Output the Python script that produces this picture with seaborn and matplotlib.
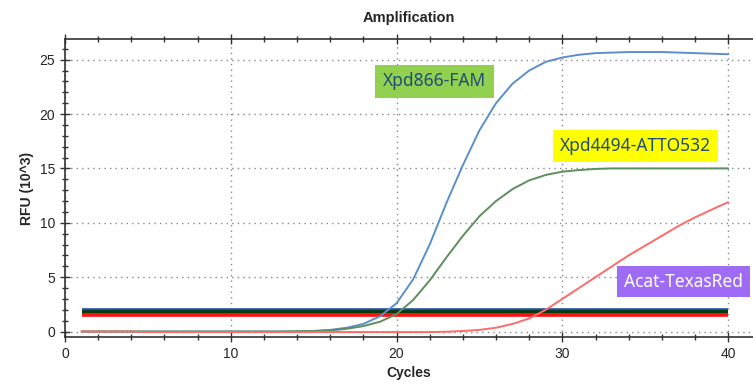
import pandas as pd
import matplotlib
matplotlib.use("Agg")
import matplotlib.pyplot as plt
import seaborn as sns
from matplotlib.ticker import MultipleLocator

# ciclos e valores de RFU (10^3)
ciclos = list(range(1, 41))

rfu_fam = [0, 0, 0, 0, 0, 0, 0, 0, 0, 0, 0, 0, 0, 0.02, 0.05, 0.15, 0.35, 0.7, 1.4, 2.6,
           4.8, 8.0, 11.8, 15.3, 18.5, 21.0, 22.8, 24.0, 24.8, 25.2, 25.45, 25.6, 25.65, 25.7,
           25.7, 25.7, 25.65, 25.6, 25.55, 25.5]
rfu_atto = [0, 0, 0, 0, 0, 0, 0, 0, 0, 0, 0, 0, 0, 0.02, 0.05, 0.1, 0.25, 0.5, 0.9, 1.6,
            2.9, 4.7, 6.8, 8.8, 10.6, 12.0, 13.1, 13.9, 14.4, 14.7, 14.85, 14.95, 15.0, 15.0,
            15.0, 15.0, 15.0, 15.0, 15.0, 15.0]
rfu_texas = [0, 0, 0, 0, -0.05, -0.05, -0.05, -0.05, -0.05, -0.05, -0.05, -0.05, -0.05, -0.05,
             -0.05, -0.05, -0.05, -0.05, -0.05, -0.05, -0.05, -0.05, -0.02, 0.05, 0.15, 0.35,
             0.7, 1.2, 2.0, 3.0, 4.0, 5.0, 6.0, 7.0, 7.9, 8.8, 9.7, 10.5, 11.2, 11.9]

limiares = [2.0, 1.75, 1.5]
cores_limiar = ['#1F4E9A', '#0A3A0A', '#FF1010']
nomes = ['Xpd866-FAM', 'Xpd4494-ATTO532', 'Acat-TexasRed']
cores_curva = ['#5B8FCB', '#5E8E5E', '#FF6B6B']

df = pd.DataFrame({
    'Ciclo': ciclos * 3,
    'RFU': rfu_fam + rfu_atto + rfu_texas,
    'Alvo': [nomes[0]] * 40 + [nomes[1]] * 40 + [nomes[2]] * 40,
})

sns.set_style("ticks")
plt.rcParams['font.family'] = ['Liberation Sans', 'DejaVu Sans']

fig = plt.figure(figsize=(7.53, 3.9), dpi=100)
ax = fig.add_axes([0.0863, 0.136, 0.9137, 0.764])

# linhas de limiar
for y, c in zip(limiares, cores_limiar):
    ax.plot([1, 40], [y, y], color=c, lw=2.6, solid_capstyle='butt', zorder=2)

sns.lineplot(data=df, x='Ciclo', y='RFU', hue='Alvo', palette=cores_curva,
             lw=1.4, legend=False, ax=ax, zorder=3)

ax.set_xlim(0, 41.5)
ax.set_ylim(-0.5, 26.9)
ax.xaxis.set_major_locator(MultipleLocator(10))
ax.xaxis.set_minor_locator(MultipleLocator(2))
ax.yaxis.set_major_locator(MultipleLocator(5))
ax.yaxis.set_minor_locator(MultipleLocator(1))
ax.tick_params(axis='both', which='major', direction='inout', length=7, width=1,
               labelsize=10, top=True, color='#333333')
ax.tick_params(axis='both', which='minor', direction='inout', length=5, width=1,
               top=True, color='#333333')
ax.tick_params(axis='x', labeltop=False)
ax.grid(True, which='major', color='#888888', linestyle=(0, (1, 3)), lw=1)
for s in ['left', 'bottom', 'top']:
    ax.spines[s].set_color('#333333')
    ax.spines[s].set_linewidth(1.2)
ax.spines['right'].set_visible(False)

ax.set_title('Amplification', fontsize=10.5, fontweight='bold', pad=12)
ax.set_xlabel('Cycles', fontsize=10, fontweight='bold')
ax.set_ylabel('RFU (10^3)', fontsize=10, fontweight='bold')

# rótulos em caixas coloridas
fonte = ['Noto Sans', 'DejaVu Sans']
ax.text(22.3, 23.0, nomes[0], fontsize=12.5, color='#1F4E79', family=fonte,
        va='center', ha='center',
        bbox=dict(boxstyle='square,pad=0.45', ec='none', fc='#92D050'))
ax.text(34.4, 17.1, nomes[1], fontsize=12.5, color='#1F4E79', family=fonte,
        va='center', ha='center',
        bbox=dict(boxstyle='square,pad=0.4', ec='none', fc='#FFFF00'))
ax.text(37.3, 4.6, nomes[2], fontsize=12.5, color='white', family=fonte,
        va='center', ha='center',
        bbox=dict(boxstyle='square,pad=0.4', ec='none', fc='#9E6BF5'))

fig.savefig('out.png', dpi=100)
